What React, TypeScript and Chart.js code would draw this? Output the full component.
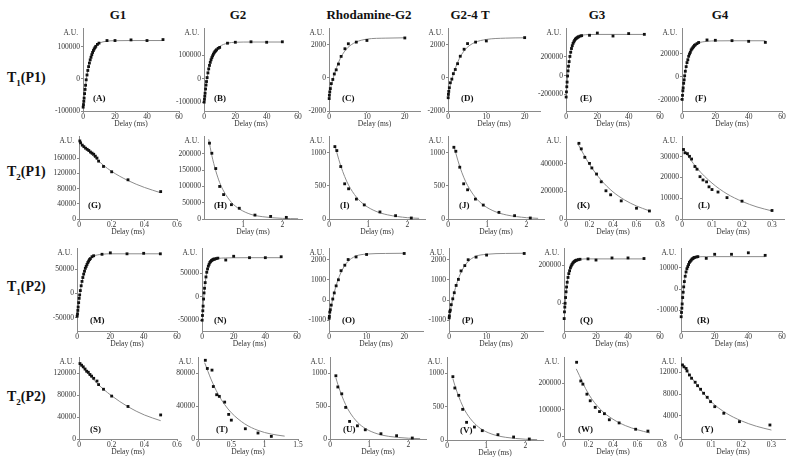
import React, { useEffect, useRef } from 'react';
import { Chart, registerables } from 'chart.js';

Chart.register(...registerables);

const SERIF = '"Liberation Serif", "Times New Roman", serif';
const AXIS = '#8a8a8a';
const TEXT = '#333333';
const FIT = '#8c8c8c';
const DOT = '#111111';

// ---------- text ----------
const COLUMN_TITLES = ['G1', 'G2', 'Rhodamine-G2', 'G2-4 T', 'G3', 'G4'];
const ROW_SUBS = ['1', '2', '1', '2'];
const ROW_PHASES = ['(P1)', '(P1)', '(P2)', '(P2)'];
const PANEL_LETTERS = ['(A)', '(B)', '(C)', '(D)', '(E)', '(F)', '(G)', '(H)', '(I)', '(J)', '(K)', '(L)',
  '(M)', '(N)', '(O)', '(P)', '(Q)', '(R)', '(S)', '(T)', '(U)', '(V)', '(W)', '(Y)'];
const X_TITLE = 'Delay (ms)';
const Y_UNIT = 'A.U.';

// ---------- delays ----------
const T1_DELAYS = [0.1, 0.3, 0.5, 0.7, 1, 1.3, 1.6, 2, 2.5, 3, 3.5, 4, 4.5, 5, 5.5, 6, 6.5, 7, 7.5, 8, 9, 10, 15, 20, 30, 40, 50];
const T1_FIT_DELAYS = [0, 1, 2, 3, 4, 5, 6, 8, 10, 15, 20, 30, 50];
const RHOD_T1_DELAYS = [0.05, 0.1, 0.2, 0.35, 0.6, 1, 1.4, 1.9, 2.5, 3.2, 4.2, 5.1, 7.2, 10, 20];
const RHOD_T1_FIT_DELAYS = [0, 0.5, 1, 2, 3, 4, 5, 7, 10, 15, 20];
const RHOD_T2_DELAYS = [0.15, 0.2, 0.3, 0.4, 0.5, 0.7, 0.9, 1.3, 1.7, 2.1];
const RHOD_T2_FIT_DELAYS = [0.15, 0.2, 0.3, 0.4, 0.5, 0.7, 0.9, 1.2, 1.5, 2, 2.3];
const G_DELAYS = [0.005, 0.01, 0.02, 0.03, 0.04, 0.05, 0.06, 0.07, 0.08, 0.09, 0.1, 0.11, 0.12, 0.15, 0.2, 0.3, 0.5];
const S_DELAYS = [0.006, 0.016, 0.026, 0.037, 0.047, 0.057, 0.067, 0.077, 0.09, 0.11, 0.12, 0.15, 0.2, 0.3, 0.5];
const GS_FIT_DELAYS = [0, 0.05, 0.1, 0.15, 0.2, 0.3, 0.4, 0.5];
const H_DELAYS = [0.14, 0.2, 0.3, 0.4, 0.5, 0.7, 0.9, 1.3, 1.7, 2.1];
const H_FIT_DELAYS = [0.12, 0.2, 0.3, 0.4, 0.5, 0.7, 0.9, 1.2, 1.5, 2, 2.4];
const T_DELAYS = [0.11, 0.14, 0.21, 0.23, 0.28, 0.32, 0.4, 0.46, 0.5, 0.71, 0.9, 1.1];
const T_FIT_DELAYS = [0.1, 0.2, 0.3, 0.4, 0.5, 0.7, 0.9, 1.1, 1.3];
const K_DELAYS = [0.11, 0.13, 0.16, 0.2, 0.22, 0.26, 0.3, 0.34, 0.38, 0.47, 0.6, 0.71];
const W_DELAYS = [0.103, 0.137, 0.154, 0.187, 0.214, 0.255, 0.29, 0.33, 0.37, 0.45, 0.585, 0.685];
const KW_FIT_DELAYS = [0.1, 0.2, 0.3, 0.4, 0.5, 0.6, 0.7];
const L_DELAYS = [0.005, 0.01, 0.018, 0.025, 0.032, 0.043, 0.05, 0.06, 0.07, 0.082, 0.09, 0.1, 0.12, 0.15, 0.2, 0.3];
const Y_DELAYS = [0.005, 0.01, 0.017, 0.02, 0.028, 0.035, 0.047, 0.055, 0.065, 0.075, 0.087, 0.098, 0.112, 0.142, 0.194, 0.295];
const LY_FIT_DELAYS = [0, 0.05, 0.1, 0.15, 0.2, 0.25, 0.3];

// ---------- signal values (A.U.) ----------
const A_VALUES = [-88000, -80000, -70000, -60000, -46000, -33000, -20000, -3000, 12000, 26000, 38000, 49000, 59000, 67000, 75000, 82000, 88000, 93000, 97000, 101000, 107000, 111000, 119000, 119000, 121000, 119000, 122000];
const A_FIT = [-92000, -46000, -5000, 27000, 50000, 68000, 82000, 100000, 110000, 117000, 118500, 119000, 119000];
const B_VALUES = [-100000, -88000, -75000, -62000, -44000, -27000, -12000, 5000, 25000, 42000, 57000, 70000, 81000, 90000, 98000, 105000, 111000, 116000, 120000, 124000, 130000, 134000, 152000, 156000, 158000, 156000, 158000];
const B_FIT = [-104000, -44000, 3000, 42000, 70000, 90000, 105000, 125000, 138000, 152000, 156000, 157000, 157000];
const C_VALUES = [-1250, -1050, -850, -650, -350, -100, 230, 480, 830, 1290, 1750, 2050, 2150, 2250, 2400];
const C_FIT = [-1350, -550, -100, 620, 1180, 1560, 1830, 2140, 2330, 2390, 2410];
const D_VALUES = [-1200, -1000, -820, -600, -300, -80, 250, 500, 850, 1300, 1720, 2060, 2150, 2220, 2420];
const D_FIT = [-1320, -540, -90, 630, 1180, 1560, 1830, 2130, 2310, 2390, 2410];
const E_VALUES = [-230000, -175000, -120000, -70000, -5000, 50000, 100000, 150000, 205000, 250000, 290000, 320000, 345000, 362000, 378000, 390000, 398000, 405000, 411000, 416000, 423000, 428000, 432000, 456000, 424000, 450000, 442000];
const E_FIT = [-250000, -10000, 145000, 248000, 318000, 362000, 392000, 420000, 432000, 440000, 441000, 441000, 441000];
const F_VALUES = [-19500, -16000, -12000, -9500, -5500, -2500, 1000, 5000, 9000, 12500, 15000, 18000, 20000, 21500, 23500, 24500, 25500, 26500, 27500, 28000, 29000, 30000, 32200, 31900, 31600, 31000, 30100];
const F_FIT = [-20500, -5800, 4800, 12400, 17800, 21700, 24500, 27800, 29600, 31000, 31400, 31500, 31500];

const G_VALUES = [205000, 200000, 194000, 190000, 186000, 183000, 180000, 176000, 173000, 170000, 165000, 160000, 152000, 138000, 124000, 103000, 72000];
const G_FIT = [205000, 181000, 160000, 141000, 125000, 101000, 83000, 69000];
const H_VALUES = [233000, 202000, 155000, 100000, 75000, 44000, 33000, 12000, 8000, 5000];
const H_FIT = [245000, 195000, 148000, 112000, 86000, 51000, 31000, 14000, 7000, 2000, 800];
const I_VALUES = [1090, 1030, 790, 530, 455, 300, 212, 106, 50, 15];
const I_FIT = [1110, 1000, 800, 640, 510, 330, 215, 115, 62, 20, 10];
const J_VALUES = [1080, 1020, 780, 530, 440, 300, 210, 100, 50, 15];
const J_FIT = [1100, 990, 790, 630, 505, 325, 210, 112, 60, 20, 10];
const K_VALUES = [547000, 507000, 446000, 402000, 369000, 325000, 269000, 204000, 175000, 131000, 78000, 58000];
const K_FIT = [545000, 395000, 280000, 196000, 137000, 94000, 62000];
const L_VALUES = [33500, 31900, 31500, 30200, 28900, 25300, 24000, 20400, 18800, 17900, 15500, 14200, 13000, 10300, 8600, 4100];
const L_FIT = [34500, 24500, 17300, 12100, 8500, 5800, 3900];

const M_VALUES = [-47000, -42000, -35000, -28000, -19000, -10000, -3000, 6000, 16000, 25000, 33000, 40000, 46000, 52000, 56000, 60000, 64000, 67000, 70000, 72000, 76000, 78000, 81000, 84000, 82000, 83000, 82000];
const M_FIT = [-50000, -20000, 5000, 24000, 39000, 51000, 60000, 71000, 77000, 81000, 82000, 82000, 82000];
const N_VALUES = [-50000, -40000, -30000, -20000, -5000, 8000, 18000, 30000, 42000, 52000, 59000, 65000, 69000, 73000, 75000, 77000, 78000, 79000, 80000, 80000, 81000, 82000, 78000, 86000, 83000, 83000, 85000];
const N_FIT = [-53000, -6000, 29000, 51000, 64000, 72000, 76500, 80000, 81500, 82500, 82800, 83000, 83000];
const O_VALUES = [-900, -800, -600, -480, -250, 50, 350, 700, 1000, 1450, 1720, 2000, 2130, 2250, 2300];
const O_FIT = [-950, -400, 60, 780, 1280, 1650, 1900, 2160, 2270, 2300, 2310];
const P_VALUES = [-880, -780, -580, -500, -230, 60, 360, 720, 1020, 1440, 1700, 1990, 2120, 2220, 2300];
const P_FIT = [-940, -390, 70, 780, 1280, 1640, 1890, 2150, 2260, 2300, 2310];
const Q_VALUES = [-80000, -45000, -20000, 0, 30000, 60000, 85000, 110000, 135000, 155000, 170000, 185000, 195000, 203000, 210000, 215000, 218000, 222000, 224000, 226000, 228000, 230000, 232000, 226000, 237000, 237000, 234000];
const Q_FIT = [-90000, 30000, 110000, 158000, 188000, 206000, 217000, 226000, 230000, 232000, 232000, 232000, 232000];
const R_VALUES = [-13000, -11000, -9000, -7000, -4000, -1500, 1000, 3500, 6000, 8000, 9500, 10500, 11500, 12500, 13000, 13500, 14000, 14300, 14600, 14800, 15000, 15200, 14400, 16300, 16300, 17000, 15800];
const R_FIT = [-14500, -4000, 3500, 8300, 10800, 12600, 13700, 14800, 15100, 15200, 15200, 15200, 15200];

const S_VALUES = [138000, 135000, 132000, 128000, 124000, 122000, 118000, 115000, 111000, 106000, 99500, 91000, 78500, 59500, 44000];
const S_FIT = [140000, 121000, 105000, 91000, 79000, 59000, 44000, 33500];
const T_VALUES = [96000, 86000, 84000, 64000, 54000, 52000, 45000, 30000, 23000, 12500, 7300, 3200];
const T_FIT = [93000, 72000, 55000, 42000, 32000, 18500, 10500, 6000, 3500];
const U_VALUES = [960, 790, 686, 480, 267, 200, 140, 80, 50, 15];
const U_FIT = [930, 830, 660, 520, 410, 255, 160, 80, 40, 12, 5];
const V_VALUES = [950, 780, 670, 460, 265, 195, 140, 80, 45, 15];
const V_FIT = [920, 820, 650, 510, 400, 250, 155, 78, 40, 12, 5];
const W_VALUES = [280000, 209000, 197000, 159000, 134000, 109000, 93000, 85000, 62000, 50000, 26000, 19000];
const W_FIT = [255000, 160000, 100000, 64000, 40000, 24000, 12000];
const Y_VALUES = [13340, 13000, 12700, 12240, 11500, 10900, 10170, 9540, 8880, 8150, 7410, 6610, 5690, 4480, 2940, 2330];
const Y_FIT = [13800, 9900, 6600, 4500, 3100, 2100, 1400];

// ---------- tick labels ----------
const XT_LONG = [0, 20, 40, 60];
const XT_RHOD = [0, 10, 20];
const XT_06 = [0, 0.2, 0.4, 0.6];
const XT_08 = [0, 0.2, 0.4, 0.6, 0.8];
const XT_03 = [0, 0.1, 0.2, 0.3];
const XT_2 = [0, 1, 2];
const XT_H = [1, 2];
const XT_15 = [0, 0.5, 1, 1.5];

const YT_100K = [-100000, 0, 100000];
const YT_2000 = [-2000, 0, 2000];
const YT_200K = [-200000, 0, 200000];
const YT_20K = [-20000, 0, 20000];
const YT_G = [0, 40000, 80000, 120000, 160000];
const YT_H = [0, 50000, 100000, 150000, 200000];
const YT_1000 = [0, 500, 1000];
const YT_K = [0, 200000, 400000];
const YT_L = [0, 10000, 20000, 30000];
const YT_50K = [-50000, 0, 50000];
const YT_O = [-1000, 0, 1000, 2000];
const YT_Q = [0, 200000];
const YT_10K = [-10000, 0, 10000];
const YT_S = [0, 40000, 80000, 120000];
const YT_T = [0, 40000, 80000];
const YT_W = [0, 100000, 200000];
const YT_Y = [0, 4000, 8000, 12000];

// ---------- layout ----------
const YW = 42;
const PT = 7;
const PR = 12;
const XH = 18;
const HEADER_X = [118, 238, 369, 470, 597, 720];
const HEADER_Y = 15;
const ROW_LABEL_Y = [78, 172, 287, 397];

type PanelDef = {
  box: number[]; // L, R, T, B
  lx: number;
  ly: number;
  xr: number[];
  yr: number[];
  xt: number[];
  yt: number[];
  xs: number[];
  ys: number[];
  fx: number[];
  fy: number[];
};

const PANELS: PanelDef[] = [
  { box: [83, 179, 28, 111], lx: 10, ly: 12, xr: [0, 60], yr: [-100000, 158000], xt: XT_LONG, yt: YT_100K, xs: T1_DELAYS, ys: A_VALUES, fx: T1_FIT_DELAYS, fy: A_FIT },
  { box: [204, 298, 28, 111], lx: 10, ly: 12, xr: [0, 60], yr: [-138000, 217000], xt: XT_LONG, yt: YT_100K, xs: T1_DELAYS, ys: B_VALUES, fx: T1_FIT_DELAYS, fy: B_FIT },
  { box: [329, 420, 28, 111], lx: 13, ly: 12, xr: [0, 24], yr: [-2000, 3000], xt: XT_RHOD, yt: YT_2000, xs: RHOD_T1_DELAYS, ys: C_VALUES, fx: RHOD_T1_FIT_DELAYS, fy: C_FIT },
  { box: [448, 540, 28, 111], lx: 13, ly: 12, xr: [0, 24], yr: [-2000, 3000], xt: XT_RHOD, yt: YT_2000, xs: RHOD_T1_DELAYS, ys: D_VALUES, fx: RHOD_T1_FIT_DELAYS, fy: D_FIT },
  { box: [566, 660, 28, 111], lx: 14, ly: 12, xr: [0, 60], yr: [-380000, 510000], xt: XT_LONG, yt: YT_200K, xs: T1_DELAYS, ys: E_VALUES, fx: T1_FIT_DELAYS, fy: E_FIT },
  { box: [682, 782, 28, 111], lx: 13, ly: 12, xr: [0, 60], yr: [-29600, 42600], xt: XT_LONG, yt: YT_20K, xs: T1_DELAYS, ys: F_VALUES, fx: T1_FIT_DELAYS, fy: F_FIT },

  { box: [79, 177, 136, 219], lx: 9, ly: 13, xr: [0, 0.6], yr: [0, 218000], xt: XT_06, yt: YT_G, xs: G_DELAYS, ys: G_VALUES, fx: GS_FIT_DELAYS, fy: G_FIT },
  { box: [204, 302, 136, 219], lx: 10, ly: 13, xr: [0, 2.5], yr: [0, 255000], xt: XT_H, yt: YT_H, xs: H_DELAYS, ys: H_VALUES, fx: H_FIT_DELAYS, fy: H_FIT },
  { box: [329, 425, 136, 219], lx: 11, ly: 13, xr: [0, 2.45], yr: [0, 1250], xt: XT_2, yt: YT_1000, xs: RHOD_T2_DELAYS, ys: I_VALUES, fx: RHOD_T2_FIT_DELAYS, fy: I_FIT },
  { box: [448, 544, 136, 219], lx: 11, ly: 13, xr: [0, 2.45], yr: [0, 1250], xt: XT_2, yt: YT_1000, xs: RHOD_T2_DELAYS, ys: J_VALUES, fx: RHOD_T2_FIT_DELAYS, fy: J_FIT },
  { box: [566, 660, 136, 219], lx: 11, ly: 13, xr: [0, 0.8], yr: [0, 600000], xt: XT_08, yt: YT_K, xs: K_DELAYS, ys: K_VALUES, fx: KW_FIT_DELAYS, fy: K_FIT },
  { box: [682, 784, 136, 219], lx: 16, ly: 13, xr: [0, 0.34], yr: [0, 40000], xt: XT_03, yt: YT_L, xs: L_DELAYS, ys: L_VALUES, fx: LY_FIT_DELAYS, fy: L_FIT },

  { box: [77, 177, 248, 331], lx: 13, ly: 10, xr: [0, 60], yr: [-77500, 94000], xt: XT_LONG, yt: YT_50K, xs: T1_DELAYS, ys: M_VALUES, fx: T1_FIT_DELAYS, fy: M_FIT },
  { box: [202, 297, 248, 331], lx: 12, ly: 10, xr: [0, 60], yr: [-73000, 103600], xt: XT_LONG, yt: YT_50K, xs: T1_DELAYS, ys: N_VALUES, fx: T1_FIT_DELAYS, fy: N_FIT },
  { box: [329, 423, 248, 331], lx: 13, ly: 10, xr: [0, 25], yr: [-1530, 2570], xt: XT_RHOD, yt: YT_O, xs: RHOD_T1_DELAYS, ys: O_VALUES, fx: RHOD_T1_FIT_DELAYS, fy: O_FIT },
  { box: [449, 543, 248, 331], lx: 13, ly: 10, xr: [0, 25], yr: [-1530, 2570], xt: XT_RHOD, yt: YT_O, xs: RHOD_T1_DELAYS, ys: P_VALUES, fx: RHOD_T1_FIT_DELAYS, fy: P_FIT },
  { box: [564, 660, 248, 331], lx: 16, ly: 10, xr: [0, 60], yr: [-145000, 289000], xt: XT_LONG, yt: YT_Q, xs: T1_DELAYS, ys: Q_VALUES, fx: T1_FIT_DELAYS, fy: Q_FIT },
  { box: [681, 782, 248, 331], lx: 16, ly: 10, xr: [0, 60], yr: [-19700, 19250], xt: XT_LONG, yt: YT_10K, xs: T1_DELAYS, ys: R_VALUES, fx: T1_FIT_DELAYS, fy: R_FIT },

  { box: [79, 177, 357, 439], lx: 11, ly: 9, xr: [0, 0.6], yr: [0, 150000], xt: XT_06, yt: YT_S, xs: S_DELAYS, ys: S_VALUES, fx: GS_FIT_DELAYS, fy: S_FIT },
  { box: [198, 298, 357, 439], lx: 18, ly: 9, xr: [0, 1.5], yr: [0, 100000], xt: XT_15, yt: YT_T, xs: T_DELAYS, ys: T_VALUES, fx: T_FIT_DELAYS, fy: T_FIT },
  { box: [330, 426, 357, 439], lx: 13, ly: 9, xr: [0, 2.45], yr: [0, 1245], xt: XT_2, yt: YT_1000, xs: RHOD_T2_DELAYS, ys: U_VALUES, fx: RHOD_T2_FIT_DELAYS, fy: U_FIT },
  { box: [447, 543, 357, 440], lx: 13, ly: 9, xr: [0, 2.45], yr: [0, 1245], xt: XT_2, yt: YT_1000, xs: RHOD_T2_DELAYS, ys: V_VALUES, fx: RHOD_T2_FIT_DELAYS, fy: V_FIT },
  { box: [564, 662, 357, 439], lx: 14, ly: 9, xr: [0, 0.8], yr: [-11000, 300000], xt: XT_08, yt: YT_W, xs: W_DELAYS, ys: W_VALUES, fx: KW_FIT_DELAYS, fy: W_FIT },
  { box: [681, 785, 357, 439], lx: 20, ly: 9, xr: [0, 0.345], yr: [-240, 14800], xt: XT_03, yt: YT_Y, xs: Y_DELAYS, ys: Y_VALUES, fx: LY_FIT_DELAYS, fy: Y_FIT },
];

const panelTextPlugin = {
  id: 'panelText',
  afterDraw(chart: any, _args: any, opts: any) {
    const { ctx, chartArea } = chart;
    ctx.save();
    ctx.fillStyle = TEXT;
    ctx.font = `7.5px ${SERIF}`;
    ctx.textAlign = 'right';
    ctx.textBaseline = 'middle';
    ctx.fillText(Y_UNIT, chartArea.left - 5, chartArea.top + 5);
    ctx.fillStyle = '#111';
    ctx.font = `bold 9px ${SERIF}`;
    ctx.textAlign = 'left';
    ctx.fillText(opts.letter, chartArea.left + opts.dx, chartArea.bottom - opts.dy);
    ctx.restore();
  },
};

function Panel({ p, letter }: { p: PanelDef; letter: string }) {
  const ref = useRef<HTMLCanvasElement | null>(null);
  const [L, R, T, B] = p.box;
  const w = R - L + YW + PR;
  const h = B - T + PT + XH;

  useEffect(() => {
    if (!ref.current) return;
    const tickFont = { family: SERIF, size: 7.5 };
    const chart = new Chart(ref.current, {
      type: 'scatter',
      data: {
        datasets: [
          {
            data: p.fx.map((x, i) => ({ x, y: p.fy[i] })),
            showLine: true,
            borderColor: FIT,
            borderWidth: 1,
            pointRadius: 0,
            cubicInterpolationMode: 'monotone',
            fill: false,
            order: 2,
          } as any,
          {
            data: p.xs.map((x, i) => ({ x, y: p.ys[i] })),
            showLine: false,
            pointStyle: 'rect',
            pointRadius: 2,
            backgroundColor: DOT,
            borderColor: DOT,
            borderWidth: 0,
            clip: false,
            order: 1,
          } as any,
        ],
      },
      options: {
        responsive: false,
        animation: false,
        events: [],
        layout: { padding: { top: PT, right: PR, left: 0, bottom: 0 } },
        plugins: {
          legend: { display: false },
          tooltip: { enabled: false },
          panelText: { letter, dx: p.lx, dy: p.ly },
        } as any,
        scales: {
          x: {
            type: 'linear',
            min: p.xr[0],
            max: p.xr[1],
            afterBuildTicks: (s: any) => { s.ticks = p.xt.map((v) => ({ value: v })); },
            afterFit: (s: any) => { s.height = XH; },
            grid: { display: true, drawOnChartArea: false, drawTicks: true, tickLength: 2, color: AXIS },
            border: { display: true, color: AXIS, width: 1 },
            ticks: { font: tickFont, color: TEXT, padding: 0, maxRotation: 0, autoSkip: false, callback: (v: any) => String(v) },
            title: { display: true, text: X_TITLE, font: tickFont, color: TEXT, padding: 0 },
          },
          y: {
            type: 'linear',
            min: p.yr[0],
            max: p.yr[1],
            afterBuildTicks: (s: any) => { s.ticks = p.yt.map((v) => ({ value: v })); },
            afterFit: (s: any) => { s.width = YW; },
            grid: { display: true, drawOnChartArea: false, drawTicks: true, tickLength: 2, color: AXIS },
            border: { display: true, color: AXIS, width: 1 },
            ticks: { font: tickFont, color: TEXT, padding: 1, autoSkip: false, callback: (v: any) => String(v) },
          },
        },
      } as any,
      plugins: [panelTextPlugin],
    });
    return () => chart.destroy();
  }, []);

  return (
    <canvas
      ref={ref}
      width={w}
      height={h}
      style={{ position: 'absolute', left: L - YW, top: T - PT, width: w, height: h }}
    />
  );
}

export default function App() {
  return (
    <div
      style={{
        position: 'fixed', left: 0, top: 0, width: 795, height: 465,
        background: '#ffffff', overflow: 'hidden', fontFamily: SERIF,
      }}
    >
      {COLUMN_TITLES.map((t, i) => (
        <div
          key={t}
          style={{
            position: 'absolute', left: HEADER_X[i], top: HEADER_Y,
            transform: 'translate(-50%, -50%)', font: `bold 13px ${SERIF}`,
            whiteSpace: 'nowrap', color: '#111',
          }}
        >
          {t}
        </div>
      ))}
      {ROW_SUBS.map((s, i) => (
        <div
          key={i}
          style={{
            position: 'absolute', left: 7, top: ROW_LABEL_Y[i],
            transform: 'translateY(-50%)', font: `bold 14px ${SERIF}`,
            whiteSpace: 'nowrap', color: '#111', lineHeight: '16px',
          }}
        >
          T<sub style={{ fontSize: 9, verticalAlign: 'sub', lineHeight: 0 }}>{s}</sub>{ROW_PHASES[i]}
        </div>
      ))}
      {PANELS.map((p, i) => (
        <Panel key={i} p={p} letter={PANEL_LETTERS[i]} />
      ))}
    </div>
  );
}
